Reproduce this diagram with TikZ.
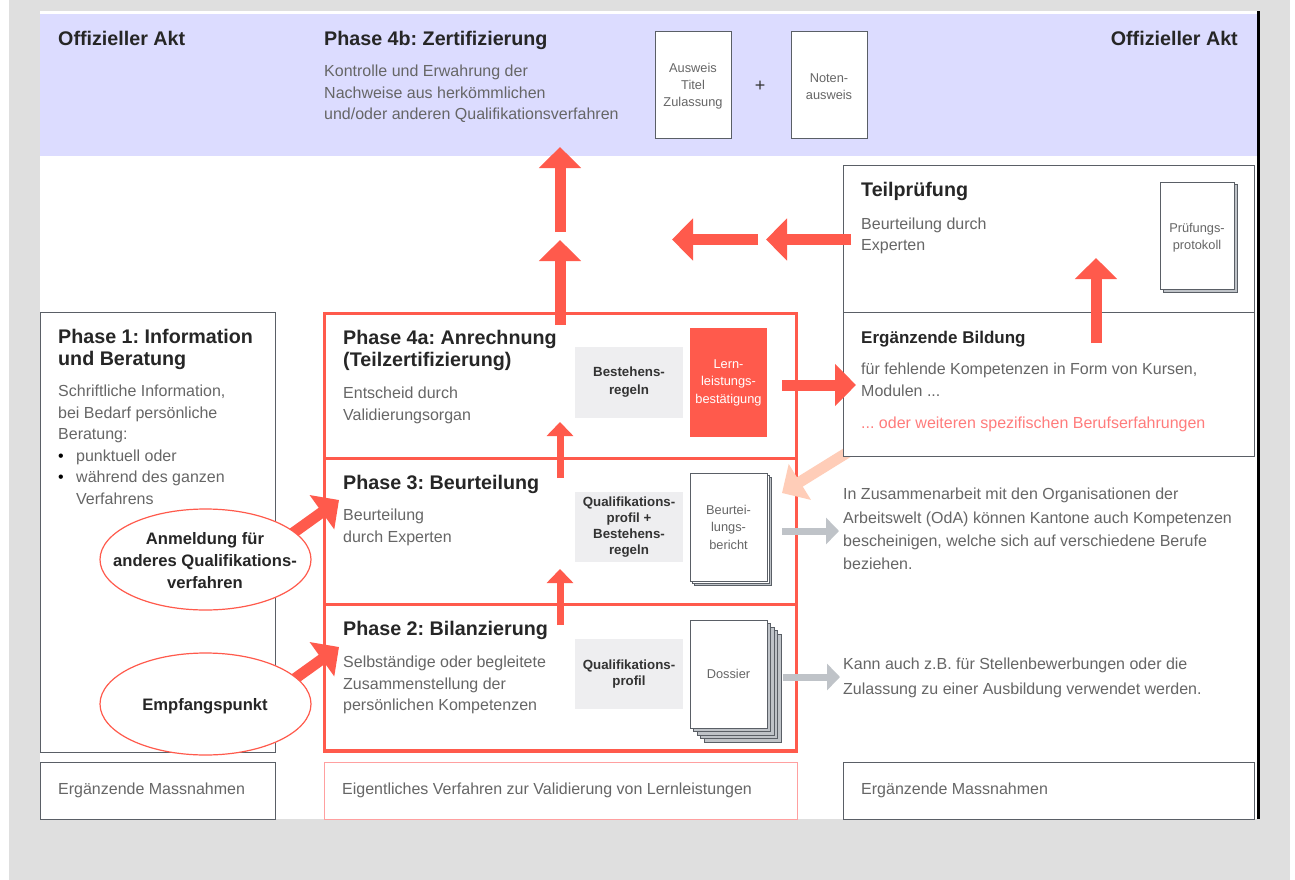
\documentclass[tikz,border=0pt]{standalone}
\usepackage{fontspec}
\setmainfont{Liberation Sans}
\usetikzlibrary{arrows.meta, shapes.geometric}

\definecolor{redline}{HTML}{FF5A4C}
\definecolor{pinkline}{HTML}{FFA0A0}
\definecolor{pinktext}{HTML}{FF7C7C}
\definecolor{peach}{HTML}{FFCDB8}
\definecolor{bandblue}{HTML}{DCDCFF}
\definecolor{backgrey}{HTML}{DFDFDF}
\definecolor{rulegrey}{HTML}{5A5F66}
\definecolor{softgrey}{HTML}{EEEEF0}
\definecolor{arrowgrey}{HTML}{BFC3C8}
\definecolor{bodygrey}{HTML}{666666}

\tikzset{
	box/.style={anchor=north west, inner sep=0pt, outer sep=0pt},
	outline/.style={box, draw=rulegrey, line width=1pt, fill=white},
	frame/.style={box, draw=redline, line width=3pt},
	softbox/.style={box, fill=softgrey, align=center, font=\fontsize{13.3}{15.8}\selectfont\bfseries, text=black!80},
	sheet/.style={box, draw=rulegrey, line width=0.9pt, fill=white, align=center, font=\fontsize{12.8}{17.5}\selectfont, text=bodygrey},
	sheettext/.style={inner sep=0pt, align=center, font=\fontsize{12.8}{17}\selectfont, text=bodygrey},
	backsheet/.style={box, draw=rulegrey, line width=0.9pt, fill=arrowgrey},
	head/.style={anchor=north west, inner sep=0pt, align=left, font=\fontsize{19.7}{22.5}\selectfont\bfseries, text=black!85},
	body/.style={anchor=north west, inner sep=0pt, align=left, font=\fontsize{16}{21.5}\selectfont, text=bodygrey},
	oval/.style={ellipse, draw=redline, line width=1.2pt, fill=white, inner sep=0pt},
	ovaltext/.style={align=center, inner sep=0pt, font=\fontsize{16.6}{22}\selectfont\bfseries, text=black!85},
	bigarrow/.style={draw=redline, line width=11pt, -{Triangle[length=21pt,width=41pt]}},
	midarrow/.style={draw=redline, line width=7pt, -{Triangle[length=14pt,width=26pt]}},
	peacharrow/.style={draw=peach, line width=11pt, -{Triangle[length=21pt,width=41pt]}},
	greyarrow/.style={draw=arrowgrey, line width=7pt, -{Triangle[length=13pt,width=26pt]}}
}

\begin{document}
\frenchspacing
\begin{tikzpicture}[x=1pt,y=-1pt]

	\useasboundingbox (0,0) rectangle (1295,880);

	% ground
	\node (ground) [box, fill=backgrey, minimum width=1281pt, minimum height=880pt] at (9,0) {};
	\node (sheetbg) [box, fill=white, minimum width=1218pt, minimum height=808pt] at (40,11) {};
	\node (band) [box, fill=bandblue, minimum width=1217pt, minimum height=142pt] at (40,14) {};
	\node (edge) [box, fill=black, minimum width=2.5pt, minimum height=808pt] at (1257,11) {};

	% top band
	\node (akt1) [head] at (58,31) {Offizieller Akt};
	\node (akt2) [head, anchor=north east] at (1238,31) {Offizieller Akt};
	\node (ph4b) [head] at (324,31) {Phase 4b: Zertifizierung};
	\node (ph4btxt) [body] at (324,65) {Kontrolle und Erwahrung der\\Nachweise aus herkömmlichen\\und/oder anderen Qualifikationsverfahren};
	\node (ausweis) [sheet, minimum width=76pt, minimum height=107pt] at (655,31) {};
	\node (ausweistxt) [sheettext] at (693,86.5) {Ausweis\\Titel\\Zulassung};
	\node (plus) [font=\fontsize{18}{20}\selectfont, text=black!80] at (760,86) {+};
	\node (noten) [sheet, minimum width=76pt, minimum height=107pt] at (791,31) {};
	\node (notentxt) [sheettext] at (829,87) {Noten-\\ausweis};

	% left column
	\node (ph1) [outline, minimum width=235pt, minimum height=440pt] at (40,312) {};
	\node (ph1hd) [head] at (58,329) {Phase 1: Information\\und Beratung};
	\node (ph1txt) [body] at (58,385) {Schriftliche Information,\\bei Bedarf persönliche\\Beratung:\\\textcolor{black}{\textbullet}\hspace{12.4pt}punktuell oder\\\textcolor{black}{\textbullet}\hspace{12.4pt}während des ganzen\\\hspace*{18pt}Verfahrens};

	% phases
	\node (ph4a) [frame, minimum width=472pt, minimum height=145pt] at (324,313) {};
	\node (ph3) [frame, minimum width=472pt, minimum height=146pt] at (324,458) {};
	\node (ph2) [frame, minimum width=472pt, minimum height=147pt] at (324,604) {};
	\node (ph2base) [box, fill=redline, minimum width=473pt, minimum height=3.5pt] at (323.5,749) {};
	\node (ph4ahd) [head] at (343,330) {Phase 4a: Anrechnung\\(Teilzertifizierung)};
	\node (ph4atxt) [body] at (343,387) {Entscheid durch\\Validierungsorgan};
	\node (ph3hd) [head] at (343,475) {Phase 3: Beurteilung};
	\node (ph3txt) [body] at (343,509) {Beurteilung\\durch Experten};
	\node (ph2hd) [head] at (343,621) {Phase 2: Bilanzierung};
	\node (ph2txt) [body] at (343,656) {Selbständige oder begleitete\\Zusammenstellung der\\persönlichen Kompetenzen};

	\node (regeln1) [softbox, minimum width=108pt, minimum height=71pt, font=\fontsize{13.3}{18}\selectfont\bfseries] at (575,347) {Bestehens-\\regeln};
	\node (regeln2) [softbox, minimum width=108pt, minimum height=70pt] at (575,492) {Qualifikations-\\profil +\\Bestehens-\\regeln};
	\node (regeln3) [softbox, minimum width=108pt, minimum height=70pt] at (575,639) {Qualifikations-\\profil};

	\node (lern) [box, fill=redline, minimum width=77pt, minimum height=109pt, align=center, text=white, font=\fontsize{12.8}{17.5}\selectfont] at (690,328) {Lern-\\leistungs-\\bestätigung};

	\node (bericht2) [backsheet, minimum width=77pt, minimum height=108pt] at (694,477) {};
	\node (bericht1) [sheet, minimum width=77pt, minimum height=108pt, fill=white] at (692,475) {};
	\node (bericht) [sheet, minimum width=77pt, minimum height=108pt] at (690,473) {Beurtei-\\lungs-\\bericht};

	\node (dossier4) [backsheet, minimum width=77pt, minimum height=108pt] at (704,634) {};
	\node (dossier3) [backsheet, minimum width=77pt, minimum height=108pt] at (700,630) {};
	\node (dossier2) [backsheet, minimum width=77pt, minimum height=108pt] at (697,627) {};
	\node (dossier1) [backsheet, minimum width=77pt, minimum height=108pt] at (693,623) {};
	\node (dossier) [sheet, minimum width=77pt, minimum height=108pt] at (690,620) {Dossier};

	% this one runs under the box it comes from
	\coordinate (peachA) at (853,449);
	\coordinate (peachB) at (782,493);
	\path (peachA) edge[peacharrow] (peachB);

	% right column
	\node (teil) [outline, minimum width=411pt, minimum height=147pt] at (843,165) {};
	\node (erg) [outline, minimum width=411pt, minimum height=144pt] at (843,312) {};
	\node (teilhd) [head] at (861,182) {Teilprüfung};
	\node (teiltxt) [body, font=\fontsize{16}{20.5}\selectfont] at (861,218) {Beurteilung durch\\Experten};
	\node (protoback) [backsheet, minimum width=74pt, minimum height=108pt] at (1163,184) {};
	\node (proto) [sheet, minimum width=74pt, minimum height=107pt] at (1160,182) {};
	\node (prototxt) [sheettext] at (1197,237.5) {Prüfungs-\\protokoll};
	\node (erghd) [head, font=\fontsize{17}{22}\selectfont\bfseries] at (861,331) {Ergänzende Bildung};
	\node (ergtxt) [body] at (861,363) {für fehlende Kompetenzen in Form von Kursen,\\Modulen ...};
	\node (ergred) [body, text=pinktext] at (861,417) {... oder weiteren spezifischen Berufserfahrungen};
	\node (odatxt) [body, font=\fontsize{16}{23.3}\selectfont] at (843,488) {In Zusammenarbeit mit den Organisationen der\\Arbeitswelt (OdA) können Kantone auch Kompetenzen\\bescheinigen, welche sich auf verschiedene Berufe\\beziehen.};
	\node (dostxt) [body, font=\fontsize{16}{24.5}\selectfont] at (843,658) {Kann auch z.B. für Stellenbewerbungen oder die\\Zulassung zu einer Ausbildung verwendet werden.};

	% footer boxes
	\node (foot1) [outline, minimum width=235pt, minimum height=57pt] at (40,762) {};
	\node (foot2) [box, draw=pinkline, line width=1pt, fill=white, minimum width=473pt, minimum height=57pt] at (324,762) {};
	\node (foot3) [outline, minimum width=411pt, minimum height=57pt] at (843,762) {};
	\node (foot1txt) [body] at (58,783) {Ergänzende Massnahmen};
	\node (foot2txt) [body] at (342,783) {Eigentliches Verfahren zur Validierung von Lernleistungen};
	\node (foot3txt) [body] at (861,783) {Ergänzende Massnahmen};

	% arrow ends
	\coordinate (zertA) at (560,232);
	\coordinate (zertB) at (560,147);
	\coordinate (anrA) at (560,325);
	\coordinate (anrB) at (560,240);
	\coordinate (teilA) at (758,239.5);
	\coordinate (teilB) at (672,239.5);
	\coordinate (ergA) at (851,239.5);
	\coordinate (ergB) at (766,239.5);
	\coordinate (protoA) at (1096,343);
	\coordinate (protoB) at (1096,258);
	\coordinate (beuA) at (560,478);
	\coordinate (beuB) at (560,422);
	\coordinate (bilA) at (560,625);
	\coordinate (bilB) at (560,569);
	\coordinate (anmA) at (293,533);
	\coordinate (anmB) at (339,500);
	\coordinate (empA) at (293,680);
	\coordinate (empB) at (339,647);
	\coordinate (lernA) at (782,385);
	\coordinate (lernB) at (856,385);
	\coordinate (oda) at (839,531);
	\coordinate (odaA) at (782,531);
	\coordinate (dos) at (840,677);
	\coordinate (dosA) at (783,677);

	\path
	(zertA) edge[bigarrow] (zertB)
	(anrA) edge[bigarrow] (anrB)
	(teilA) edge[bigarrow] (teilB)
	(ergA) edge[bigarrow] (ergB)
	(protoA) edge[bigarrow] (protoB)
	(beuA) edge[midarrow] (beuB)
	(bilA) edge[midarrow] (bilB)
	(anmA) edge[bigarrow] (anmB)
	(empA) edge[bigarrow] (empB)
	(lernA) edge[bigarrow] (lernB)
	(odaA) edge[greyarrow] (oda)
	(dosA) edge[greyarrow] (dos);

	% entry points
	\node (anm) [oval, minimum width=211pt, minimum height=101pt] at (205.5,559.5) {};
	\node (emp) [oval, minimum width=211pt, minimum height=102pt] at (205.5,704) {};
	\node (anmtxt) [ovaltext] at (205,561) {Anmeldung für\\anderes Qualifikations-\\verfahren};
	\node (emptxt) [ovaltext] at (205,706) {Empfangspunkt};

\end{tikzpicture}
\end{document}
